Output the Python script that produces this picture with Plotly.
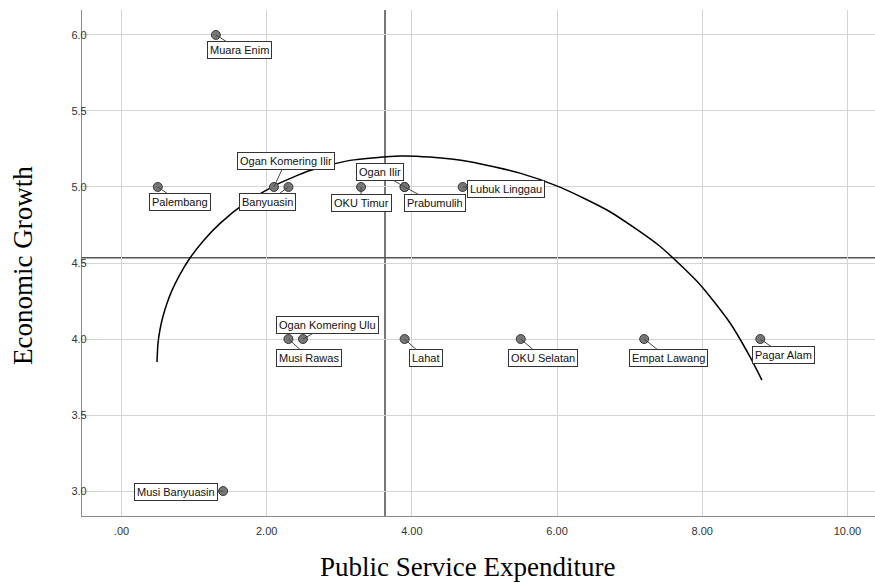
import plotly.graph_objects as go

# ---- data ----
regions = ["Muara Enim", "Palembang", "Ogan Komering Ilir", "Banyuasin", "OKU Timur",
           "Ogan Ilir", "Prabumulih", "Lubuk Linggau", "Ogan Komering Ulu", "Musi Rawas",
           "Lahat", "OKU Selatan", "Empat Lawang", "Pagar Alam", "Musi Banyuasin"]
expenditure = [1.3, 0.5, 2.1, 2.3, 3.3, 3.9, 3.9, 4.7, 2.5, 2.3, 3.9, 5.5, 7.2, 8.8, 1.4]
growth = [6.0, 5.0, 5.0, 5.0, 5.0, 5.0, 5.0, 5.0, 4.0, 4.0, 4.0, 4.0, 4.0, 4.0, 3.0]

# fitted curve
curve_x = [0.489, 0.503, 0.530, 0.571, 0.626, 0.694, 0.804, 0.941, 1.120, 1.354, 1.698,
           2.114, 2.596, 3.147, 3.836, 4.249, 4.800, 5.489, 6.040, 6.729, 7.417, 7.968,
           8.381, 8.657, 8.822]
curve_y = [3.849, 3.972, 4.061, 4.148, 4.234, 4.318, 4.424, 4.531, 4.642, 4.759, 4.892,
           5.011, 5.108, 5.175, 5.204, 5.197, 5.166, 5.091, 4.999, 4.837, 4.610, 4.359,
           4.107, 3.884, 3.730]

mean_x = 3.63
mean_y = 4.535

x_ticks = [0, 2, 4, 6, 8, 10]
x_tick_labels = [".00", "2.00", "4.00", "6.00", "8.00", "10.00"]
y_ticks = [3.0, 3.5, 4.0, 4.5, 5.0, 5.5, 6.0]
y_tick_labels = ["3.0", "3.5", "4.0", "4.5", "5.0", "5.5", "6.0"]

# label box offsets (pixels, box centre relative to point)
label_offsets = [(24, 15), (22, 15), (12, -26), (-21, 15), (0, 16), (-25, -15), (30, 16),
                 (43, 2), (25, -14), (21, 19), (21, 19), (22, 19), (24, 19), (23, 16), (-47, 1)]

fig = go.Figure()

fig.add_trace(go.Scatter(x=curve_x, y=curve_y, mode="lines",
                         line=dict(color="black", width=1.5, shape="spline", smoothing=0.6),
                         hoverinfo="skip", showlegend=False))

fig.add_trace(go.Scatter(x=expenditure, y=growth, mode="markers", text=regions,
                         marker=dict(size=9, color="#767676", line=dict(color="#3a3a3a", width=1)),
                         showlegend=False))

fig.add_shape(type="line", xref="x", yref="paper", x0=mean_x, x1=mean_x, y0=0, y1=1,
              line=dict(color="#555555", width=1.6), layer="below")
fig.add_shape(type="line", xref="paper", yref="y", x0=0, x1=1, y0=mean_y, y1=mean_y,
              line=dict(color="#555555", width=1.6), layer="below")

for name, xv, yv, (dx, dy) in zip(regions, expenditure, growth, label_offsets):
    fig.add_annotation(x=xv, y=yv, text=name, showarrow=True, ax=dx, ay=dy,
                       arrowhead=0, arrowwidth=1, arrowcolor="#444444", standoff=0,
                       font=dict(family="Liberation Sans, Arial", size=11, color="#111111"),
                       bgcolor="white", bordercolor="#333333", borderwidth=1, borderpad=2)

fig.add_annotation(xref="paper", yref="paper", x=(23 - 82) / 793, y=(516 - 266) / 506,
                   text="Economic Growth", textangle=-90, showarrow=False,
                   xanchor="center", yanchor="middle",
                   font=dict(family="Liberation Serif, Times New Roman", size=27, color="black"))
fig.add_annotation(xref="paper", yref="paper", x=(467 - 82) / 793, y=-(567 - 516) / 506,
                   text="Public Service Expenditure", showarrow=False,
                   xanchor="center", yanchor="middle",
                   font=dict(family="Liberation Serif, Times New Roman", size=27, color="black"))

fig.update_layout(
    width=875, height=583,
    margin=dict(l=82, r=0, t=10, b=67),
    paper_bgcolor="white", plot_bgcolor="white",
    xaxis=dict(range=[-0.544, 10.38], tickvals=x_ticks, ticktext=x_tick_labels,
               showgrid=True, gridcolor="#d4d4d4", gridwidth=1, zeroline=False,
               showline=True, linecolor="#8a8a8a", linewidth=1.2, ticks="",
               ticklabelstandoff=5,
               tickfont=dict(family="Liberation Sans, Arial", size=11, color="#333333")),
    yaxis=dict(range=[2.836, 6.164], tickvals=y_ticks, ticktext=y_tick_labels,
               showgrid=True, gridcolor="#d4d4d4", gridwidth=1, zeroline=False,
               showline=True, linecolor="#8a8a8a", linewidth=1.2, ticks="",
               ticklabelstandoff=-8,
               tickfont=dict(family="Liberation Sans, Arial", size=11, color="#333333")),
)

fig.write_html("out.html")
